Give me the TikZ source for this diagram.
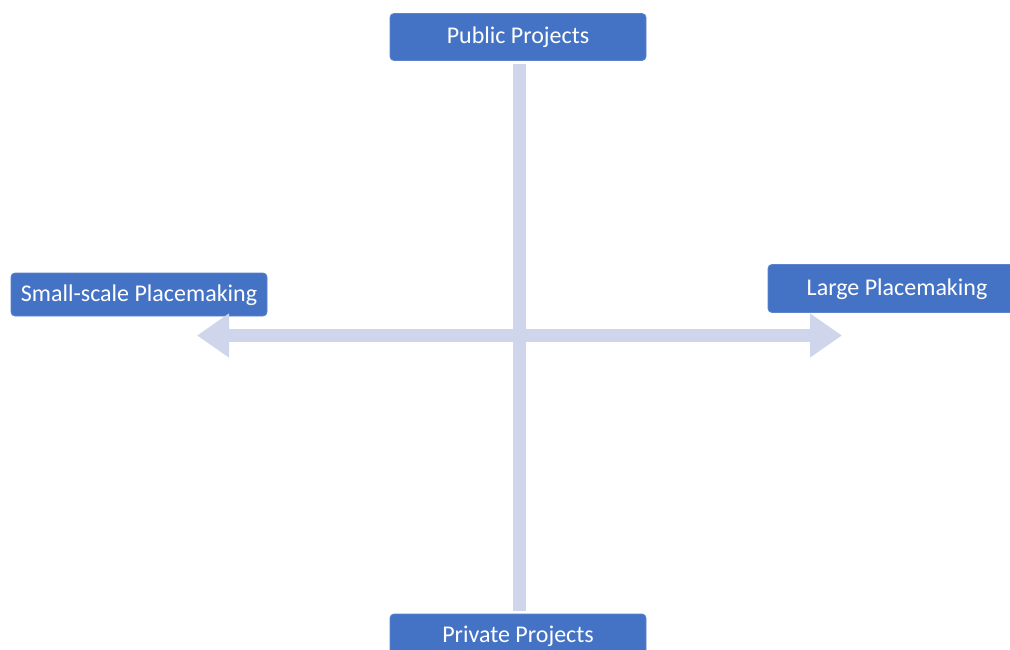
\documentclass[tikz,border=0pt]{standalone}
\usepackage{fontspec}
\setmainfont{Carlito}
\usetikzlibrary{arrows.meta}
\definecolor{boxblue}{HTML}{4472C4}
\definecolor{boxedge}{HTML}{5B84CC}
\definecolor{axisgrey}{HTML}{CFD5EA}
\begin{document}
\begin{tikzpicture}[x=1pt,y=-1pt,
  label box/.style={draw=boxedge, line width=0.8pt, fill=boxblue, rounded corners=4pt,
    text=white, font=\fontsize{24}{28}\selectfont, inner sep=0pt,
    text height=17pt, text depth=3pt, anchor=center},
  axis bar/.style={draw=axisgrey, line width=13pt, line cap=butt},
  axis arrow/.style={draw=axisgrey, line width=13pt,
    {Triangle[length=32pt,width=42pt,fill=axisgrey]}-{Triangle[length=32pt,width=42pt,fill=axisgrey]}}]
\useasboundingbox (0,0) rectangle (1010,650);
\clip (0,0) rectangle (1010,650);
% quadrant labels
\node[label box, minimum width=256pt, minimum height=47pt] (pub) at (518,37) {Public Projects};
\node[label box, minimum width=256pt, minimum height=42pt] (priv) at (518,635) {Private Projects};
\node[label box, minimum width=256pt, minimum height=43pt] (small) at (139,294.5) {Small-scale Placemaking};
\node[label box, minimum width=258pt, minimum height=48pt] (large) at (897,288.5) {Large Placemaking};
% axes
\coordinate (hleft) at (197,335.5);
\coordinate (hright) at (842,335.5);
\draw[axis bar] ([xshift=1.5pt,yshift=-3pt]pub.south) -- ([xshift=1.5pt,yshift=3pt]priv.north);
\draw[axis arrow] (hleft) -- (hright);
\end{tikzpicture}
\end{document}
